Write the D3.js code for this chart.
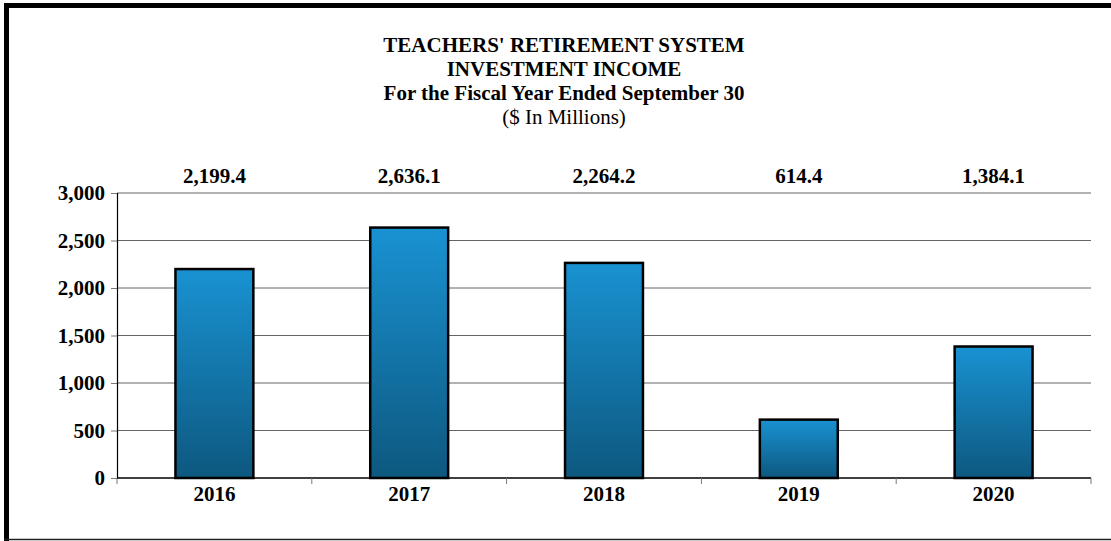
<!DOCTYPE html>
<html>
<head>
<meta charset="utf-8">
<script src="https://cdn.jsdelivr.net/npm/d3@7"></script>
<style>
  body { margin: 0; background: #fff; }
  svg { display: block; font-family: "Liberation Serif", "Times New Roman", serif; }
</style>
</head>
<body>
<script>
// chart data
var years = ["2016", "2017", "2018", "2019", "2020"];
var income = [2199.4, 2636.1, 2264.2, 614.4, 1384.1];
var yTicks = [0, 500, 1000, 1500, 2000, 2500, 3000];
var titleLines = ["TEACHERS' RETIREMENT SYSTEM", "INVESTMENT INCOME", "For the Fiscal Year Ended September 30", "($ In Millions)"];

var W = 1111, H = 541;
var margin = {top: 193, right: 20, bottom: 63, left: 117},
    width = 1091 - margin.left,
    height = 478 - margin.top;

var svg = d3.select("body").append("svg")
    .attr("width", W)
    .attr("height", H);

// gradient for the bars
var grad = svg.append("defs").append("linearGradient")
    .attr("id", "barGrad")
    .attr("x1", 0).attr("y1", 0).attr("x2", 0).attr("y2", 1);
grad.append("stop").attr("offset", "0%").attr("stop-color", "#1992d2");
grad.append("stop").attr("offset", "100%").attr("stop-color", "#0d587f");

// frame (left + top thick, bottom thin)
svg.append("rect").attr("x", 4).attr("y", 3).attr("width", W - 4).attr("height", 5).attr("fill", "#000");
svg.append("rect").attr("x", 4).attr("y", 3).attr("width", 5).attr("height", H - 3).attr("fill", "#000");
svg.append("line").attr("x1", 4).attr("x2", W).attr("y1", 539.5).attr("y2", 539.5)
    .attr("stroke", "#222").attr("stroke-width", 1.5);

// titles
svg.selectAll("text.title")
  .data(titleLines)
  .enter().append("text")
    .attr("class", "title")
    .attr("x", 564)
    .attr("y", function(d, i) { return 52 + i * 24; })
    .attr("text-anchor", "middle")
    .style("font-size", "21px")
    .style("font-weight", function(d, i) { return i < 3 ? "bold" : "normal"; })
    .text(function(d) { return d; });

var g = svg.append("g")
    .attr("transform", "translate(" + margin.left + "," + margin.top + ")");

var x = d3.scaleBand().domain(years).range([0, width]).paddingInner(0.6).paddingOuter(0.3);
var y = d3.scaleLinear().domain([0, 3000]).range([height, 0]);

// gridlines
g.selectAll("line.grid")
  .data(yTicks.filter(function(d) { return d > 0; }))
  .enter().append("line")
    .attr("class", "grid")
    .attr("x1", 0).attr("x2", width)
    .attr("y1", function(d) { return y(d); })
    .attr("y2", function(d) { return y(d); })
    .attr("stroke", "#666").attr("stroke-width", 1);

// y axis
var yAxis = g.append("g")
    .call(d3.axisLeft(y).tickValues(yTicks).tickSize(6).tickPadding(6).tickFormat(d3.format(",")));
yAxis.select(".domain").attr("stroke", "#000").attr("stroke-width", 1.2);
yAxis.selectAll(".tick line").attr("stroke", "#777");
yAxis.selectAll("text")
    .style("font-family", "'Liberation Serif', 'Times New Roman', serif")
    .style("font-size", "21px").style("font-weight", "bold").attr("fill", "#000");

// bars
g.selectAll("rect.bar")
  .data(income)
  .enter().append("rect")
    .attr("class", "bar")
    .attr("x", function(d, i) { return x(years[i]); })
    .attr("y", function(d) { return y(d); })
    .attr("width", x.bandwidth())
    .attr("height", function(d) { return height - y(d); })
    .attr("fill", "url(#barGrad)")
    .attr("stroke", "#000")
    .attr("stroke-width", 2.5);

// x axis with ticks at category boundaries
var xb = d3.scaleLinear().domain([0, years.length]).range([0, width]);
g.append("line")
    .attr("x1", 0).attr("x2", width)
    .attr("y1", height).attr("y2", height)
    .attr("stroke", "#000").attr("stroke-width", 1.5);
g.selectAll("line.xtick")
  .data(d3.range(years.length + 1))
  .enter().append("line")
    .attr("class", "xtick")
    .attr("x1", function(d) { return xb(d); })
    .attr("x2", function(d) { return xb(d); })
    .attr("y1", height).attr("y2", height + 6)
    .attr("stroke", "#777");

g.selectAll("text.year")
  .data(years)
  .enter().append("text")
    .attr("class", "year")
    .attr("x", function(d) { return x(d) + x.bandwidth() / 2; })
    .attr("y", height + 23)
    .attr("text-anchor", "middle")
    .style("font-size", "21px").style("font-weight", "bold")
    .text(function(d) { return d; });

// value labels above the plot
var fmt = d3.format(",.1f");
g.selectAll("text.val")
  .data(income)
  .enter().append("text")
    .attr("class", "val")
    .attr("x", function(d, i) { return x(years[i]) + x.bandwidth() / 2; })
    .attr("y", -10)
    .attr("text-anchor", "middle")
    .style("font-size", "21px").style("font-weight", "bold")
    .text(function(d) { return fmt(d); });
</script>
</body>
</html>
